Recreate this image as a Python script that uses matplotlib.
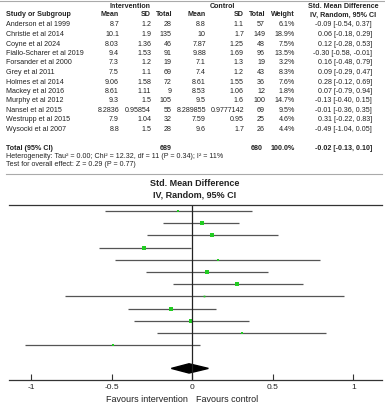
import matplotlib
matplotlib.use("Agg")
import matplotlib.pyplot as plt
from matplotlib.patches import Polygon

plt.rcParams['font.family'] = ['Liberation Sans', 'DejaVu Sans']

studies = ["Anderson et al 1999", "Christie et al 2014", "Coyne et al 2024",
           "Fiallo-Scharer et al 2019", "Forsander et al 2000", "Grey et al 2011",
           "Holmes et al 2014", "Mackey et al 2016", "Murphy et al 2012",
           "Nansel et al 2015", "Westrupp et al 2015", "Wysocki et al 2007"]
int_mean = ["8.7", "10.1", "8.03", "9.4", "7.3", "7.5", "9.06", "8.61", "9.3", "8.2836", "7.9", "8.8"]
int_sd = ["1.2", "1.9", "1.36", "1.53", "1.2", "1.1", "1.58", "1.11", "1.5", "0.95854", "1.04", "1.5"]
int_n = [28, 135, 46, 91, 19, 69, 72, 9, 105, 55, 32, 28]
ctl_mean = ["8.8", "10", "7.87", "9.88", "7.1", "7.4", "8.61", "8.53", "9.5", "8.289855", "7.59", "9.6"]
ctl_sd = ["1.1", "1.7", "1.25", "1.69", "1.3", "1.2", "1.55", "1.06", "1.6", "0.9777142", "0.95", "1.7"]
ctl_n = [57, 149, 48, 96, 19, 43, 36, 12, 100, 69, 25, 26]
weight = [6.1, 18.9, 7.5, 13.5, 3.2, 8.3, 7.6, 1.8, 14.7, 9.5, 4.6, 4.4]
smd = [-0.09, 0.06, 0.12, -0.30, 0.16, 0.09, 0.28, 0.07, -0.13, -0.01, 0.31, -0.49]
lo = [-0.54, -0.18, -0.28, -0.58, -0.48, -0.29, -0.12, -0.79, -0.40, -0.36, -0.22, -1.04]
hi = [0.37, 0.29, 0.53, -0.01, 0.79, 0.47, 0.69, 0.94, 0.15, 0.35, 0.83, 0.05]
total_int, total_ctl = 689, 680
pooled, pooled_lo, pooled_hi = -0.02, -0.13, 0.10
ticks = [-1, -0.5, 0, 0.5, 1]
tick_labels = ["-1", "-0.5", "0", "0.5", "1"]

W, H = 385, 403
fig = plt.figure(figsize=(W / 100, H / 100), dpi=100)
tc = "#222222"
fs = 5.1


def t(x, y, s, ha="left", bold=False, size=fs):
    fig.text(x / W, 1 - y / H, s, ha=ha, va="center", fontsize=size,
             fontweight="bold" if bold else "normal", color=tc)


def hline(y, x0, x1, color, lw=0.8):
    fig.add_artist(plt.Line2D([x0 / W, x1 / W], [1 - y / H, 1 - y / H], color=color, lw=lw))


# table
hline(1, 0, W, "#aaaaaa")
t(130, 6, "Intervention", ha="center", bold=True)
t(222, 6, "Control", ha="center", bold=True)
t(343, 6, "Std. Mean Difference", ha="center", bold=True)
t(6, 15, "Study or Subgroup", bold=True)
cols = [119, 151, 172, 206, 244, 265, 295]
for x, h in zip(cols, ["Mean", "SD", "Total", "Mean", "SD", "Total", "Weight"]):
    t(x, 15, h, ha="right", bold=True)
t(343, 15, "IV, Random, 95% CI", ha="center", bold=True)

for i, s in enumerate(studies):
    y = 25 + 9.5 * i
    t(6, y, s)
    vals = [int_mean[i], int_sd[i], str(int_n[i]), ctl_mean[i], ctl_sd[i],
            str(ctl_n[i]), "%.1f%%" % weight[i]]
    for x, v in zip(cols, vals):
        t(x, y, v, ha="right")
    t(372, y, "%.2f [%.2f, %.2f]" % (smd[i], lo[i], hi[i]), ha="right")

t(6, 148, "Total (95% CI)", bold=True)
t(172, 148, str(total_int), ha="right", bold=True)
t(263, 148, str(total_ctl), ha="right", bold=True)
t(295, 148, "100.0%", ha="right", bold=True)
t(372, 148, "%.2f [%.2f, %.2f]" % (pooled, pooled_lo, pooled_hi), ha="right", bold=True)
t(6, 156, "Heterogeneity: Tau² = 0.00; Chi² = 12.32, df = 11 (P = 0.34); I² = 11%")
t(6, 164, "Test for overall effect: Z = 0.29 (P = 0.77)")

hline(174, 6, 382, "#aaaaaa")
t(195, 184, "Std. Mean Difference", ha="center", bold=True, size=6.5)
t(195, 195, "IV, Random, 95% CI", ha="center", bold=True, size=6.5)

# forest plot
ax = fig.add_axes([9 / W, 1 - 380 / H, 373 / W, 175 / H])
n = len(studies)
rows = [1 + i for i in range(n)]
diamond_y = 13.9
for r, m, l, h, w in zip(rows, smd, lo, hi, weight):
    ax.plot([l, h], [r, r], color="#555555", lw=0.9, solid_capstyle="butt")
    ax.plot(m, r, marker="s", color="#22cc22", ms=0.65 * w ** 0.5 + 0.4, mew=0)
ax.add_patch(Polygon([[pooled_lo, diamond_y], [pooled, diamond_y - 0.38],
                      [pooled_hi, diamond_y], [pooled, diamond_y + 0.38]],
                     closed=True, color="black"))
ax.axvline(0, color="#222222", lw=0.9)
ax.set_xlim(-1.138, 1.178)
ax.set_ylim(14.85, 0.51)
ax.set_yticks([])
ax.set_xticks(ticks)
ax.set_xticklabels(tick_labels, fontsize=6.0, color=tc)
ax.tick_params(axis="x", direction="in", length=4, width=0.8, color="#333333", pad=3)
for side in ["left", "right"]:
    ax.spines[side].set_visible(False)
ax.spines["top"].set_color("#333333")
ax.spines["bottom"].set_color("#333333")
ax.spines["top"].set_linewidth(0.9)
ax.spines["bottom"].set_linewidth(0.9)

t(188, 399, "Favours intervention", ha="right", size=6.5)
t(196, 399, "Favours control", ha="left", size=6.5)

fig.savefig("out.png", dpi=100)
